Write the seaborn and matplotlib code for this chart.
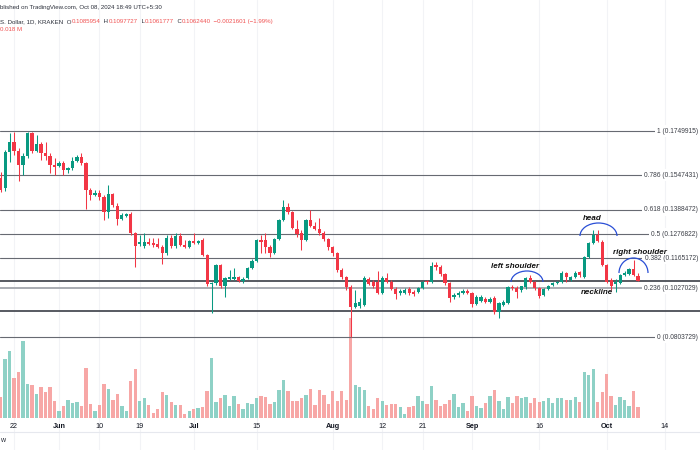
import numpy as np
import pandas as pd
import matplotlib
matplotlib.use("Agg")
import matplotlib.pyplot as plt
import matplotlib.transforms as mtrans
from matplotlib.patches import Arc
import seaborn as sns

# ---------------- data ----------------
start_date = "2024-05-19"

opens = [.1534, .1488, .1653, .1699, .1658, .1594, .1635, .1741, .1658, .1690,
         .1649, .1635, .1594, .1589, .1603, .1571, .1580, .1612, .1631, .1603,
         .1479, .1456, .1465, .1447, .1378, .1461, .1405, .1346, .1359, .1369,
         .1281, .1231, .1222, .1240, .1235, .1231, .1217, .1190, .1258, .1222,
         .1268, .1226, .1217, .1245, .1235, .1249, .1180, .1047, .1052, .1134,
         .1038, .1070, .1070, .1079, .1061, .1075, .1121, .1153, .1249, .1249,
         .1217, .1190, .1254, .1341, .1401, .1378, .1300, .1281, .1249, .1341,
         .1314, .1300, .1281, .1254, .1217, .1190, .1112, .1079, .1033, .0942,
         .0946, .0951, .1070, .1056, .1056, .1006, .1075, .1056, .1024, .1006,
         .1006, .1024, .1010, .1010, .1029, .1061, .1056, .1134, .1125, .1093,
         .1052, .0988, .0997, .1006, .1015, .1006, .0955, .0969, .0978, .0965,
         .0983, .0919, .0951, .0960, .1033, .1029, .1020, .1033, .1075, .1056,
         .1029, .0997, .1024, .1043, .1052, .1056, .1098, .1066, .1079, .1102,
         .1079, .1171, .1235, .1272, .1240, .1134, .1066, .1047, .1052, .1089,
         .1093, .1116, .1085954]

highs = [.1562, .1663, .1741, .1745, .1672, .1649, .1745, .1745, .1731, .1699,
         .1699, .1649, .1626, .1612, .1612, .1585, .1631, .1640, .1649, .1608,
         .1488, .1479, .1479, .1456, .1502, .1465, .1419, .1373, .1373, .1378,
         .1286, .1272, .1281, .1258, .1258, .1258, .1226, .1272, .1272, .1281,
         .1281, .1249, .1249, .1281, .1249, .1258, .1185, .1056, .1139, .1139,
         .1079, .1112, .1121, .1084, .1079, .1125, .1162, .1254, .1272, .1281,
         .1226, .1258, .1346, .1433, .1419, .1382, .1341, .1295, .1346, .1387,
         .1332, .1350, .1291, .1258, .1222, .1194, .1121, .1084, .1043, .1020,
         .0983, .1084, .1079, .1066, .1107, .1084, .1098, .1066, .1033, .1024,
         .1029, .1033, .1020, .1033, .1061, .1066, .1148, .1148, .1134, .1098,
         .1056, .1006, .1015, .1024, .1024, .1010, .0997, .0997, .0988, .0988,
         .0992, .0965, .0974, .1038, .1043, .1038, .1038, .1079, .1089, .1061,
         .1033, .1029, .1043, .1056, .1061, .1107, .1102, .1084, .1107, .1107,
         .1176, .1240, .1295, .1295, .1249, .1139, .1075, .1070, .1093, .1107,
         .1121, .1157, .1097727]

lows = [.1470, .1474, .1608, .1640, .1520, .1548, .1626, .1649, .1653, .1617,
        .1617, .1557, .1548, .1585, .1548, .1557, .1571, .1608, .1594, .1392,
        .1433, .1451, .1433, .1341, .1350, .1401, .1318, .1341, .1355, .1272,
        .1125, .1222, .1212, .1226, .1217, .1212, .1139, .1180, .1212, .1212,
        .1222, .1212, .1212, .1231, .1231, .1176, .1038, .0914, .1043, .1029,
        .0988, .1066, .1066, .1056, .1052, .1070, .1116, .1148, .1190, .1190,
        .1171, .1185, .1249, .1336, .1369, .1300, .1263, .1203, .1245, .1309,
        .1295, .1272, .1245, .1203, .1176, .1102, .1070, .1020, .0804, .0937,
        .0937, .0946, .1043, .1029, .1001, .1001, .1052, .1020, .0978, .0997,
        .1001, .0997, .0992, .1006, .1024, .1047, .1052, .1112, .1084, .1043,
        .0965, .0978, .0988, .1001, .1001, .0942, .0951, .0965, .0960, .0960,
        .0910, .0891, .0946, .0955, .1020, .0983, .1010, .1024, .1052, .1020,
        .0983, .0992, .1020, .1038, .1047, .1052, .1056, .1061, .1075, .1079,
        .1075, .1167, .1231, .1240, .1130, .1052, .1020, .1010, .1047, .1084,
        .1089, .1084, .1061777]

closes = [.1479, .1653, .1699, .1658, .1594, .1635, .1741, .1658, .1690, .1649,
          .1635, .1594, .1585, .1603, .1571, .1580, .1612, .1631, .1603, .1479,
          .1456, .1465, .1447, .1378, .1461, .1410, .1346, .1364, .1369, .1281,
          .1222, .1240, .1240, .1231, .1226, .1217, .1190, .1258, .1222, .1268,
          .1226, .1217, .1245, .1235, .1245, .1180, .1047, .1052, .1134, .1038,
          .1075, .1079, .1079, .1061, .1070, .1121, .1153, .1249, .1240, .1217,
          .1190, .1254, .1341, .1401, .1378, .1304, .1277, .1249, .1341, .1314,
          .1300, .1281, .1254, .1217, .1190, .1112, .1079, .1033, .0942, .0960,
          .0965, .1075, .1047, .1038, .1006, .1075, .1056, .1024, .1001, .1015,
          .1020, .1006, .1001, .1029, .1056, .1056, .1130, .1125, .1093, .1052,
          .0983, .0997, .1006, .1015, .1006, .0955, .0988, .0988, .0965, .0978,
          .0919, .0960, .0965, .1033, .1029, .1010, .1038, .1075, .1056, .1029,
          .0992, .1024, .1038, .1052, .1056, .1098, .1079, .1079, .1098, .1089,
          .1171, .1235, .1272, .1245, .1134, .1056, .1038, .1056, .1089, .1098,
          .1116, .1089, .1062440]

volumes_m = [38, 107, 122, 73, 84, 140, 62, 60, 44, 55,
             47, 56, 31, 13, 22, 33, 27, 29, 22, 91,
             25, 13, 24, 62, 53, 33, 44, 22, 13, 66,
             89, 31, 36, 24, 9, 16, 46, 42, 29, 24,
             24, 7, 13, 16, 18, 20, 49, 109, 29, 35,
             42, 22, 40, 25, 16, 27, 25, 36, 40, 38,
             25, 29, 51, 69, 49, 31, 31, 36, 42, 53,
             24, 51, 42, 25, 49, 31, 49, 33, 182, 60,
             55, 51, 22, 15, 36, 31, 24, 25, 25, 20,
             7, 20, 22, 40, 31, 25, 58, 33, 22, 25,
             33, 44, 20, 27, 13, 40, 22, 18, 27, 40,
             51, 31, 16, 38, 27, 40, 35, 38, 27, 35,
             29, 31, 36, 27, 35, 36, 33, 33, 38, 29,
             84, 78, 89, 29, 47, 80, 40, 24, 38, 33,
             22, 49, 20.018]

fib_levels = [1, 0.786, 0.618, 0.5, 0.382, 0.236, 0]
fib_prices = [0.1749915, 0.1547431, 0.1388472, 0.1276822, 0.1165172, 0.1027029, 0.0803729]
ray_prices = [0.1061, 0.0923]   # neckline ray and lower support ray

tick_dates = ["2024-05-22", "2024-06-01", "2024-06-10", "2024-06-19", "2024-07-01",
              "2024-07-15", "2024-08-01", "2024-08-12", "2024-08-21", "2024-09-01",
              "2024-09-16", "2024-10-01", "2024-10-14"]
tick_labels = ["22", "Jun", "10", "19", "Jul", "15", "Aug", "12", "21", "Sep", "16", "Oct", "14"]

header_1 = "blished on TradingView.com, Oct 08, 2024 18:49 UTC+5:30"
header_2 = [("S. Dollar, 1D, KRAKEN  O", "dark"), ("0.1085954", "red"), ("  H", "dark"),
            ("0.1097727", "red"), ("  L", "dark"), ("0.1061777", "red"), ("  C", "dark"),
            ("0.1062440", "red"), ("  \u22120.0021601 (\u22121.99%)", "red")]
header_3 = "0.018 M"

# ---------------- frame ----------------
df = pd.DataFrame({"date": pd.date_range(start_date, periods=len(closes), freq="D"),
                   "open": opens, "high": highs, "low": lows, "close": closes,
                   "vol": volumes_m})
t0 = pd.Timestamp(start_date)
df["x"] = (df["date"] - t0).dt.days
df["dir"] = np.where(df["close"] >= df["open"], "up", "down")

UP, DOWN = "#089981", "#f23645"
VUP, VDOWN = "#8ed1c6", "#f7a7a6"
TXT = "#131722"

sns.set_theme(style="white")
plt.rcParams["font.family"] = ["Liberation Sans", "DejaVu Sans"]

W, H = 700, 450
fig = plt.figure(figsize=(7, 4.5), dpi=100)
fig.patch.set_facecolor("white")

px_per_day, x0_px = 4.489, 0.64
xlim = (-x0_px / px_per_day, (W - x0_px) / px_per_day)
# price axis mapping: price = a - b*y_px
a_p, b_p = 0.23516, 0.0004593
ylim_price = (a_p - b_p * H, a_p)

vax = fig.add_axes([0, 0, 1, 1])
ax = fig.add_axes([0, 0, 1, 1])
ax.patch.set_alpha(0)

# faint vertical grid at tick dates
tick_x = [(pd.Timestamp(d) - t0).days for d in tick_dates]
for tx in tick_x:
    vax.axvline(tx, color="#f2f3f6", lw=0.8, zorder=0)

# volume (seaborn)
sns.barplot(data=df, x="x", y="vol", hue="dir", palette={"up": VUP, "down": VDOWN},
            native_scale=True, dodge=False, width=0.74, saturation=1, errorbar=None,
            legend=False, ax=vax, linewidth=0, zorder=1)
base_frac = (H - 417.7) / H
rng = H * 1.82
vax.set_ylim(-base_frac * rng, (1 - base_frac) * rng)
vax.set_xlim(*xlim)
vax.axis("off")

# fib lines + labels
lab_tr = mtrans.blended_transform_factory(fig.transFigure, ax.transData)
for lvl, p in zip(fib_levels, fib_prices):
    col = "#a3a6ad" if lvl == 0.236 else "#676a72"
    lw = 1.3 if lvl == 0.236 else 0.8
    ax.axhline(p, color=col, lw=lw, zorder=2)
    ax.text(698 / W, p, f"{lvl} ({p:.7f})", transform=lab_tr, ha="right", va="center",
            fontsize=4.8, color="#3c3f47", zorder=6,
            bbox=dict(boxstyle="square,pad=0.35", fc="white", ec="none"))
for p in ray_prices:
    ax.axhline(p, color="#4a4d55", lw=1.3, zorder=2)

# candles
colors = np.where(df["dir"] == "up", UP, DOWN)
ax.vlines(df["x"], df["low"], df["high"], colors=colors, lw=0.75, zorder=4)
body_lo = np.minimum(df["open"], df["close"])
body_h = np.maximum(np.abs(df["close"] - df["open"]), 0.00035)
ax.bar(df["x"], body_h, bottom=body_lo, width=0.72, color=colors, linewidth=0, zorder=5)
ax.set_xlim(*xlim)
ax.set_ylim(*ylim_price)
ax.axis("off")

# pattern annotations
arc_col = "#2a4fd6"
def px_y(y):
    return a_p - b_p * y
def px_x(x):
    return (x - x0_px) / px_per_day
for cx, cy, wpx, hpx in [(598.5, 236, 37, 26), (527, 282, 32, 22), (633.5, 273, 29, 30)]:
    ax.add_patch(Arc((px_x(cx), px_y(cy)), wpx / px_per_day, hpx * b_p, theta1=0, theta2=180,
                     color=arc_col, lw=0.9, zorder=7))
for txt, cx, cy in [("head", 592, 218), ("left shoulder", 515.5, 267),
                    ("right shoulder", 640, 253), ("neckline", 597, 292)]:
    ax.text(px_x(cx), px_y(cy), txt, ha="center", va="center", fontsize=5.8,
            fontweight="bold", fontstyle="italic", color="#111111", zorder=8)

# time axis labels
time_tr = mtrans.blended_transform_factory(ax.transData, fig.transFigure)
for tx, lab in zip(tick_x, tick_labels):
    ax.text(tx, (H - 426) / H, lab, transform=time_tr, ha="center", va="center",
            fontsize=5.2, color=TXT, fontweight="bold" if lab.isalpha() else "normal")
fig.add_artist(plt.Line2D([0, 1], [(H - 432) / H] * 2, color="#e6e8ee", lw=0.8))

# header
fig.text(0.0, 1 - 7.3 / H, header_1, fontsize=4.4, color="#2a2e39", va="center", ha="left")
cmap = {"dark": "#2a2e39", "red": "#f05252"}
prev = fig.text(0.0, 1 - 21.3 / H, header_2[0][0], fontsize=4.4, color=cmap[header_2[0][1]],
                va="center", ha="left")
for txt, c in header_2[1:]:
    prev = ax.annotate(txt, xy=(1, 0.5), xycoords=prev, va="center", ha="left",
                       fontsize=4.4, color=cmap[c], annotation_clip=False)
fig.text(0.0, 1 - 29.7 / H, header_3, fontsize=4.4, color=cmap["red"], va="center", ha="left")
fig.text(0.0, 1 - 441 / H, "w", fontsize=5, color="#2a2e39", va="center", ha="left")

fig.savefig("out.png", dpi=100)
